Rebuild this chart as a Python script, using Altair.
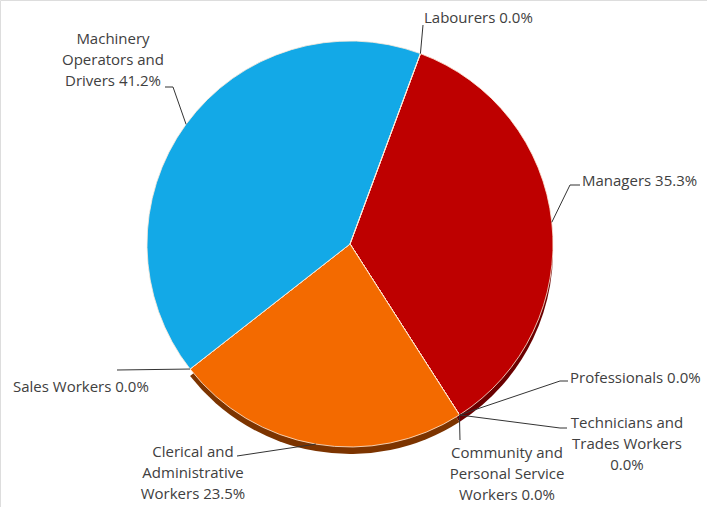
import math
import numpy as np
import pandas as pd
import altair as alt

# ---- data ----
categories = [
    "Managers",
    "Professionals",
    "Technicians and Trades Workers",
    "Community and Personal Service Workers",
    "Clerical and Administrative Workers",
    "Sales Workers",
    "Machinery Operators and Drivers",
    "Labourers",
]
shares = [35.3, 0.0, 0.0, 0.0, 23.5, 0.0, 41.2, 0.0]
label_names = [
    "Managers",
    "Professionals",
    "Technicians and\nTrades Workers",
    "Community and\nPersonal Service\nWorkers",
    "Clerical and\nAdministrative\nWorkers",
    "Sales Workers",
    "Machinery\nOperators and\nDrivers",
    "Labourers",
]
label_seps = [" ", " ", "\n", " ", " ", " ", " ", " "]

# ---- styles ----
slice_colors = ["#BE0000", "#1F4E79", "#7F7F7F", "#FFC000", "#F36A00", "#70AD47", "#13A9E7", "#5B9BD5"]
shadow_colors = ["#6A0000", "#10283E", "#404040", "#806000", "#7C3400", "#385723", "transparent", "#2E4E6B"]

# ---- layout (pixels) ----
W, H = 707, 507
CX, CY, R = 350, 244, 203
START = math.radians(20.3)

label_x = [582, 570, 627, 507, 193, 13, 113, 424]
label_y = [181, 378, 423, 453, 452, 387, 39, 18]   # centre of first text line
label_align = ["left", "left", "center", "center", "center", "left", "center", "left"]
elbow_x = [570, 560, 560, 460, 237, 117, 173, 423]
elbow_y = [185, 381, 428, 440, 456, 370, 87, 25]
tick_x = [580, 568, 567, 460, 237, 117, 165, 423]

df = pd.DataFrame({
    "idx": list(range(len(categories))),
    "category": categories,
    "share": shares,
})
df["label"] = [f"{n}{s}{v:.1f}%" for n, s, v in zip(label_names, label_seps, shares)]
df["lx"] = label_x
df["ly"] = label_y
df["align"] = label_align

# leader line start points on the pie edge, at each slice's mid-angle
total = float(np.sum(shares))
cum = np.cumsum([0.0] + shares[:-1])
mid = START + 2 * math.pi * (cum + np.array(shares) / 2) / total
edge_x = CX + R * np.sin(mid)
edge_y = CY - R * np.cos(mid)

seg_rows = []
for i in range(len(categories)):
    seg_rows.append({"x": edge_x[i], "y": edge_y[i], "x2": elbow_x[i], "y2": elbow_y[i]})
    if tick_x[i] != elbow_x[i]:
        seg_rows.append({"x": elbow_x[i], "y": elbow_y[i], "x2": tick_x[i], "y2": elbow_y[i]})
seg = pd.DataFrame(seg_rows)

theta_scale = alt.Scale(range=[START, START + 2 * math.pi])

base = alt.Chart(df)

shadow = base.mark_arc(outerRadius=R, strokeWidth=0).encode(
    theta=alt.Theta("share:Q", stack=True, scale=theta_scale),
    order=alt.Order("idx:Q"),
    color=alt.Color("category:N", scale=alt.Scale(domain=categories, range=shadow_colors), legend=None),
    x=alt.value(CX),
    y=alt.value(CY + 7),
)

pie = base.mark_arc(outerRadius=R, stroke="#FFEBD9", strokeWidth=1, strokeOpacity=0.8).encode(
    theta=alt.Theta("share:Q", stack=True, scale=theta_scale),
    order=alt.Order("idx:Q"),
    color=alt.Color("category:N", scale=alt.Scale(domain=categories, range=slice_colors), legend=None),
    x=alt.value(CX),
    y=alt.value(CY),
)

leaders = alt.Chart(seg).mark_rule(color="#333333", strokeWidth=1).encode(
    x=alt.X("x:Q", scale=None, axis=None),
    y=alt.Y("y:Q", scale=None, axis=None),
    x2="x2:Q",
    y2="y2:Q",
)

text_layers = []
for al in ["left", "center"]:
    t = base.transform_filter(alt.datum.align == al).mark_text(
        align=al,
        baseline="middle",
        lineBreak="\n",
        lineHeight=21,
        font="Open Sans",
        fontSize=15,
        color="#404040",
    ).encode(
        x=alt.X("lx:Q", scale=None, axis=None),
        y=alt.Y("ly:Q", scale=None, axis=None),
        text="label:N",
    )
    text_layers.append(t)

chart = alt.layer(shadow, pie, leaders, *text_layers).resolve_scale(
    color="independent"
).properties(
    width=W,
    height=H,
    autosize=alt.AutoSizeParams(type="none"),
    padding=0,
).configure_view(stroke=None).configure(background="white")

chart.save("out.html", embed_options={"renderer": "svg", "actions": False})
